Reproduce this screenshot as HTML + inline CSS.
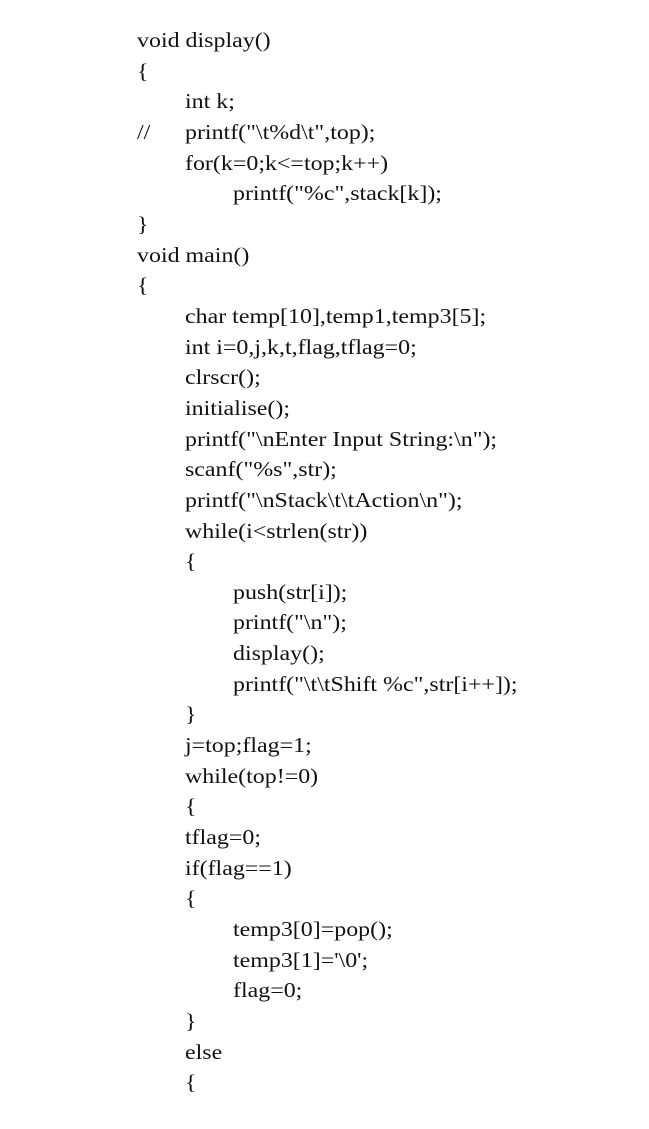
<!DOCTYPE html>
<html><head><style>
html,body{margin:0;padding:0;background:#fff;width:649px;height:1129px;overflow:hidden}
pre{position:absolute;left:137px;top:25px;margin:0;font-family:"Liberation Serif",serif;font-size:21px;line-height:30.65px;color:#111;white-space:pre;transform:scaleX(1.14);transform-origin:0 0}
.a{display:inline-block;width:42.1px}
</style></head><body>
<pre>void display()
{
<span class="a"></span>int k;
<span class="a">//</span>printf("\t%d\t",top);
<span class="a"></span>for(k=0;k&lt;=top;k++)
<span class="a"></span><span class="a"></span>printf("%c",stack[k]);
}
void main()
{
<span class="a"></span>char temp[10],temp1,temp3[5];
<span class="a"></span>int i=0,j,k,t,flag,tflag=0;
<span class="a"></span>clrscr();
<span class="a"></span>initialise();
<span class="a"></span>printf("\nEnter Input String:\n");
<span class="a"></span>scanf("%s",str);
<span class="a"></span>printf("\nStack\t\tAction\n");
<span class="a"></span>while(i&lt;strlen(str))
<span class="a"></span>{
<span class="a"></span><span class="a"></span>push(str[i]);
<span class="a"></span><span class="a"></span>printf("\n");
<span class="a"></span><span class="a"></span>display();
<span class="a"></span><span class="a"></span>printf("\t\tShift %c",str[i++]);
<span class="a"></span>}
<span class="a"></span>j=top;flag=1;
<span class="a"></span>while(top!=0)
<span class="a"></span>{
<span class="a"></span>tflag=0;
<span class="a"></span>if(flag==1)
<span class="a"></span>{
<span class="a"></span><span class="a"></span>temp3[0]=pop();
<span class="a"></span><span class="a"></span>temp3[1]='\0';
<span class="a"></span><span class="a"></span>flag=0;
<span class="a"></span>}
<span class="a"></span>else
<span class="a"></span>{</pre>
</body></html>
